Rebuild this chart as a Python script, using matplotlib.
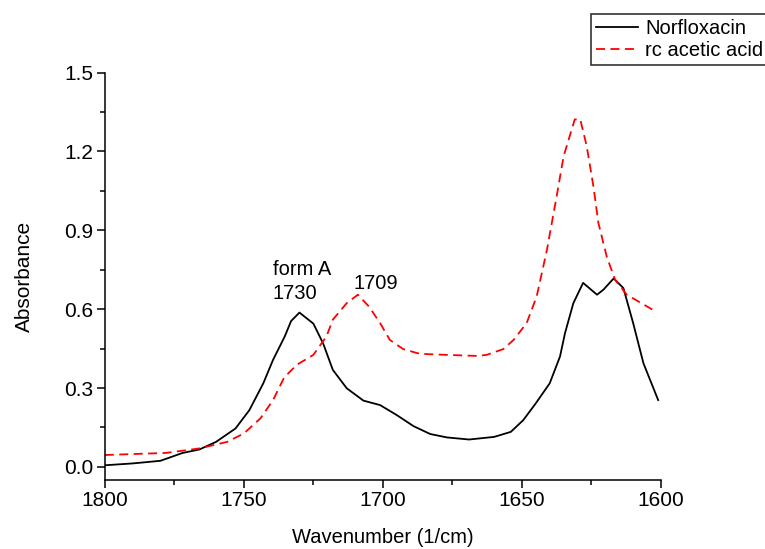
import matplotlib
matplotlib.use('Agg')
import matplotlib.pyplot as plt
import numpy as np

plt.rcParams['font.family'] = ['Liberation Sans', 'DejaVu Sans']

# Norfloxacin 光谱
wn_norf = [1800, 1790, 1780, 1772, 1766, 1760, 1753, 1748, 1743, 1739.5,
           1735.3, 1733, 1730, 1725, 1721.5, 1718, 1713, 1707, 1701, 1695,
           1689, 1683, 1677, 1669, 1660, 1654, 1649.5, 1645, 1640, 1636.3,
           1634.5, 1631.5, 1628, 1623, 1620.7, 1617, 1613.5, 1610, 1606.3, 1601]
abs_norf = [0.006, 0.013, 0.023, 0.053, 0.066, 0.095, 0.146, 0.216, 0.318, 0.407,
            0.496, 0.555, 0.587, 0.545, 0.47, 0.369, 0.299, 0.252, 0.235, 0.197,
            0.155, 0.125, 0.112, 0.104, 0.114, 0.133, 0.178, 0.242, 0.318, 0.42,
            0.509, 0.623, 0.70, 0.655, 0.674, 0.717, 0.68, 0.547, 0.394, 0.254]

# rc acetic acid 光谱
wn_acet = [1800, 1778, 1766, 1756, 1750, 1744, 1739.5, 1735.5, 1731, 1725,
           1720.3, 1718, 1713, 1709, 1705, 1701, 1697.5, 1692.7, 1686.7, 1677,
           1666, 1662.7, 1656.7, 1653, 1648.3, 1644.7, 1641, 1637.5, 1635, 1631,
           1629, 1626.7, 1624.3, 1622.5, 1619.5, 1616.5, 1612.3, 1603]
abs_acet = [0.045, 0.053, 0.07, 0.095, 0.127, 0.185, 0.254, 0.34, 0.388, 0.426,
            0.496, 0.56, 0.623, 0.655, 0.61, 0.547, 0.483, 0.448, 0.43, 0.426,
            0.422, 0.426, 0.448, 0.483, 0.547, 0.648, 0.826, 1.03, 1.182, 1.322,
            1.322, 1.22, 1.068, 0.928, 0.80, 0.712, 0.655, 0.598]

series_labels = ['Norfloxacin', 'rc acetic acid']
x_ticks = [1800, 1750, 1700, 1650, 1600]
y_ticks = [0.0, 0.3, 0.6, 0.9, 1.2, 1.5]

fig = plt.figure(figsize=(7.65, 5.49), dpi=100)
ax = fig.add_axes([0.137, 0.1257, 0.727, 0.742])

ax.plot(wn_norf, abs_norf, color='black', lw=1.3, label=series_labels[0])
ax.plot(wn_acet, abs_acet, color='red', lw=1.3, linestyle=(0, (5, 3)),
        label=series_labels[1])

ax.set_xlim(1800, 1600)
ax.set_ylim(-0.05, 1.5)
ax.set_xticks(x_ticks)
ax.set_xticks([1775, 1725, 1675, 1625], minor=True)
ax.set_yticks(y_ticks)
ax.set_yticks([0.15, 0.45, 0.75, 1.05, 1.35], minor=True)
ax.set_yticklabels([f'{v:.1f}' for v in y_ticks])

for s in ['top', 'right']:
    ax.spines[s].set_visible(False)
for s in ['left', 'bottom']:
    ax.spines[s].set_linewidth(1.1)

ax.tick_params(which='major', direction='out', length=6, width=1.1,
               labelsize=15, pad=2)
ax.tick_params(which='minor', direction='out', length=3.6, width=1.1)

ax.set_xlabel('Wavenumber (1/cm)', fontsize=14.5, labelpad=13)
ax.set_ylabel('Absorbance', fontsize=15, labelpad=22)

ax.text(1739.6, 0.625, 'form A\n1730', fontsize=14.5, ha='left', va='bottom',
        linespacing=1.3)
ax.text(1710.4, 0.662, '1709', fontsize=14.5, ha='left', va='bottom')

leg = ax.legend(loc='upper left', bbox_to_anchor=(0.7725, 0.9745),
                bbox_transform=fig.transFigure, fontsize=14.5, frameon=True,
                fancybox=False, edgecolor='black', borderaxespad=0,
                borderpad=0.25, handlelength=2.1, handletextpad=0.35,
                labelspacing=0.15)
leg.get_frame().set_linewidth(1.2)

plt.savefig('out.png', dpi=100)
